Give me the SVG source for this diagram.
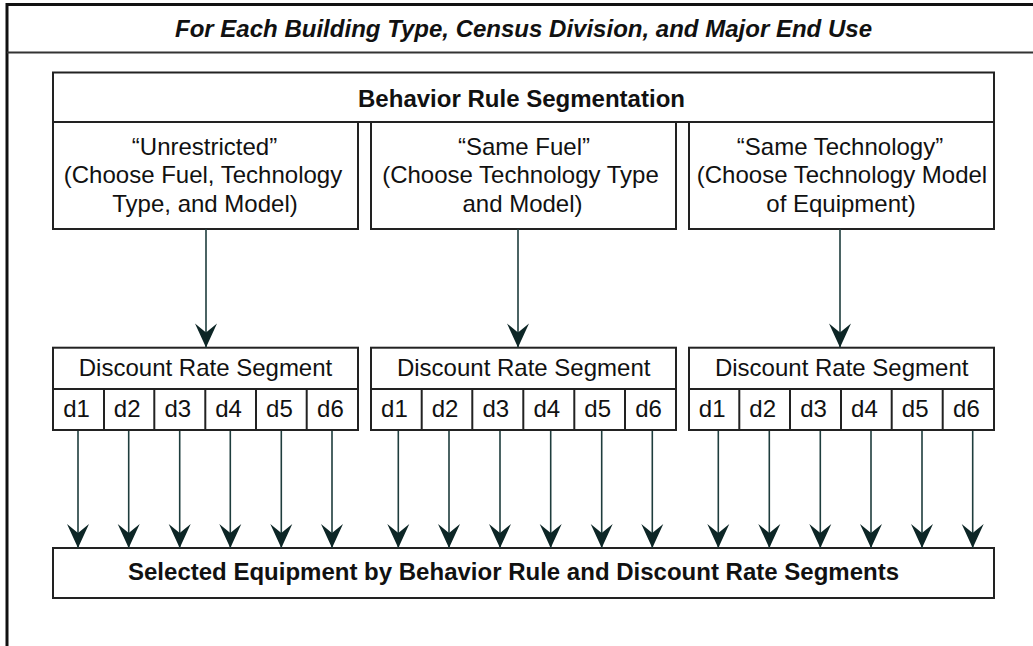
<svg xmlns="http://www.w3.org/2000/svg" width="1033" height="646" viewBox="0 0 1033 646">
<style>
.box{fill:#fff;stroke:#222;stroke-width:2}
.sep{stroke:#222;stroke-width:2;fill:none}
.t{font-family:"Liberation Sans",Arial,sans-serif;font-size:24px;fill:#111;text-anchor:middle}
.b{font-weight:bold}
.c{stroke:#1e3d3d;stroke-width:1.6;fill:none;marker-end:url(#ah)}
</style>
<defs>
<marker id="ah" markerUnits="userSpaceOnUse" viewBox="-25 -12 26 24" refX="0" refY="0" markerWidth="26" markerHeight="24" orient="auto">
<path d="M0,0 L-24,-11 L-15,0 L-24,11 Z" fill="#0d2626"/>
</marker>
</defs>
<rect width="1033" height="646" fill="#fff"/>
<g id="frame">
<path d="M7,646 L7,4.5 L1033,4.5" fill="none" stroke="#111" stroke-width="3"/>
<line x1="7" y1="52.5" x2="1033" y2="52.5" stroke="#333" stroke-width="2"/>
<text class="t b" x="523.5" y="37" font-style="italic" font-size="20" textLength="697" lengthAdjust="spacingAndGlyphs">For Each Building Type, Census Division, and Major End Use</text>
</g>
<g id="behavior">
<rect class="box" x="53" y="72.5" width="941" height="49.5"/>
<text class="t b" x="521.5" y="107" font-size="21" textLength="327" lengthAdjust="spacingAndGlyphs">Behavior Rule Segmentation</text>
</g>
<g id="unrestricted">
<rect class="box" x="53" y="122" width="305" height="107"/>
<text class="t" x="204.5" y="155">“Unrestricted”</text>
<text class="t" x="203" y="183.3">(Choose Fuel, Technology</text>
<text class="t" x="205" y="211.7">Type, and Model)</text>
</g>
<g id="samefuel">
<rect class="box" x="371" y="122" width="305" height="107"/>
<text class="t" x="524" y="155">“Same Fuel”</text>
<text class="t" x="520.5" y="183.3">(Choose Technology Type</text>
<text class="t" x="522.5" y="211.7">and Model)</text>
</g>
<g id="sametech">
<rect class="box" x="689" y="122" width="305" height="107"/>
<text class="t" x="840" y="155">“Same Technology”</text>
<text class="t" x="842" y="183.3">(Choose Technology Model</text>
<text class="t" x="841" y="211.7">of Equipment)</text>
</g>
<g id="discountA">
<rect class="box" x="53" y="347.7" width="305" height="82.3"/>
<path class="sep" d="M53,389 H358 M104,389 V430 M154.3,389 V430 M205.3,389 V430 M256,389 V430 M306.7,389 V430"/>
<text class="t" x="205.5" y="376">Discount Rate Segment</text>
<text class="t" x="76.5" y="417">d1</text>
<text class="t" x="127.2" y="417">d2</text>
<text class="t" x="177.8" y="417">d3</text>
<text class="t" x="228.6" y="417">d4</text>
<text class="t" x="279.4" y="417">d5</text>
<text class="t" x="330.4" y="417">d6</text>
</g>
<g id="discountB">
<rect class="box" x="371" y="347.7" width="305" height="82.3"/>
<path class="sep" d="M371,389 H676 M421.7,389 V430 M472.3,389 V430 M523.3,389 V430 M574.3,389 V430 M625,389 V430"/>
<text class="t" x="523.7" y="376">Discount Rate Segment</text>
<text class="t" x="394.4" y="417">d1</text>
<text class="t" x="445" y="417">d2</text>
<text class="t" x="495.8" y="417">d3</text>
<text class="t" x="546.8" y="417">d4</text>
<text class="t" x="597.7" y="417">d5</text>
<text class="t" x="648.5" y="417">d6</text>
</g>
<g id="discountC">
<rect class="box" x="689" y="347.7" width="305" height="82.3"/>
<path class="sep" d="M689,389 H994 M739.3,389 V430 M790,389 V430 M841,389 V430 M891.7,389 V430 M942.7,389 V430"/>
<text class="t" x="841.7" y="376">Discount Rate Segment</text>
<text class="t" x="712.2" y="417">d1</text>
<text class="t" x="762.7" y="417">d2</text>
<text class="t" x="813.5" y="417">d3</text>
<text class="t" x="864.4" y="417">d4</text>
<text class="t" x="915.2" y="417">d5</text>
<text class="t" x="966.4" y="417">d6</text>
</g>
<g id="selected">
<rect class="box" x="53" y="548" width="941" height="50"/>
<text class="t b" x="513.5" y="579.5" font-size="22" textLength="771" lengthAdjust="spacingAndGlyphs">Selected Equipment by Behavior Rule and Discount Rate Segments</text>
</g>
<g id="connectors">
<line class="c" x1="206" y1="229" x2="206" y2="347.5"/>
<line class="c" x1="518" y1="229" x2="518" y2="347.5"/>
<line class="c" x1="840" y1="229" x2="840" y2="347.5"/>
<line class="c" x1="78" y1="431" x2="78" y2="548"/>
<line class="c" x1="128.7" y1="431" x2="128.7" y2="548"/>
<line class="c" x1="179.7" y1="431" x2="179.7" y2="548"/>
<line class="c" x1="230.3" y1="431" x2="230.3" y2="548"/>
<line class="c" x1="281.3" y1="431" x2="281.3" y2="548"/>
<line class="c" x1="332" y1="431" x2="332" y2="548"/>
<line class="c" x1="398.3" y1="431" x2="398.3" y2="548"/>
<line class="c" x1="449" y1="431" x2="449" y2="548"/>
<line class="c" x1="500" y1="431" x2="500" y2="548"/>
<line class="c" x1="550.7" y1="431" x2="550.7" y2="548"/>
<line class="c" x1="601.7" y1="431" x2="601.7" y2="548"/>
<line class="c" x1="652.3" y1="431" x2="652.3" y2="548"/>
<line class="c" x1="718.3" y1="431" x2="718.3" y2="548"/>
<line class="c" x1="769.3" y1="431" x2="769.3" y2="548"/>
<line class="c" x1="820.3" y1="431" x2="820.3" y2="548"/>
<line class="c" x1="871" y1="431" x2="871" y2="548"/>
<line class="c" x1="922" y1="431" x2="922" y2="548"/>
<line class="c" x1="972.7" y1="431" x2="972.7" y2="548"/>
</g>
</svg>
